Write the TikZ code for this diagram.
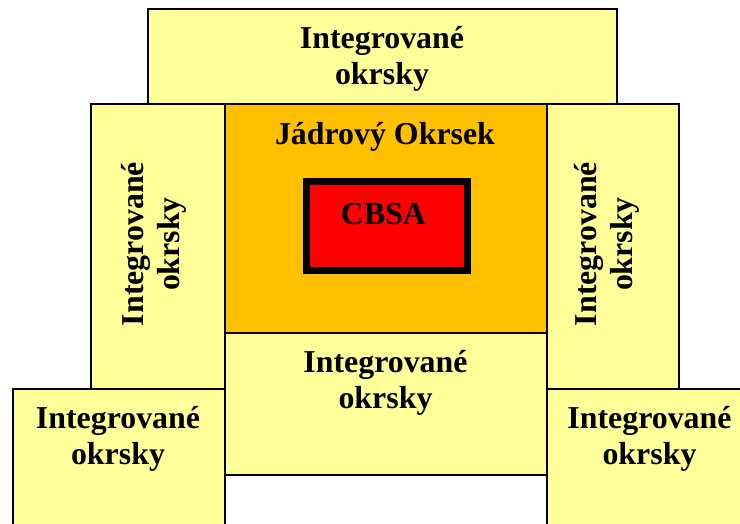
\documentclass[tikz,border=0pt]{standalone}
\usepackage{fontspec}
\setmainfont{Liberation Serif}
\definecolor{zoneyellow}{RGB}{255,255,153}
\definecolor{coreorange}{RGB}{255,192,0}
\definecolor{cbsared}{RGB}{255,0,0}
\definecolor{shadowolive}{RGB}{153,153,51}
\begin{document}
\begin{tikzpicture}[x=1bp,y=-1bp,
  zone/.style={rectangle, draw=black, line width=2bp, fill=zoneyellow,
    inner sep=0pt, anchor=north west},
  corezone/.style={zone, fill=coreorange},
  lbl/.style={font=\fontsize{32}{36}\selectfont\bfseries, align=center,
    inner sep=0pt, anchor=center}]
\useasboundingbox (0,0) rectangle (740,524);
\clip (0,0) rectangle (740,524);

% outer ring of integrated districts
\node[zone, minimum width=469bp, minimum height=95bp] (top) at (147,8) {};
\node[zone, minimum width=134bp, minimum height=285bp] (leftcol) at (90,103) {};
\node[zone, minimum width=132bp, minimum height=285bp] (rightcol) at (546,103) {};
\node[corezone, minimum width=322bp, minimum height=229bp] (core) at (224,103) {};
\node[zone, minimum width=322bp, minimum height=142bp] (bottom) at (224,332) {};
\node[zone, minimum width=212bp, minimum height=160bp] (botleft) at (12,388) {};
\node[zone, minimum width=210bp, minimum height=160bp] (botright) at (546,388) {};

% CBSA block with its drop shadow
\fill[shadowolive] (303,180) rectangle (470,274);
\node[rectangle, draw=black, line width=7bp, fill=cbsared, inner sep=0pt,
  anchor=north west, minimum width=161bp, minimum height=88bp]
  (cbsa) at (302.5,178.5) {};

% labels
\node[lbl] (toplbl) at (382,59) {Integrované\\okrsky};
\node[lbl, rotate=90] (leftlbl) at (154,244) {Integrované\\okrsky};
\node[lbl, rotate=90] (rightlbl) at (607,244) {Integrované\\okrsky};
\node[lbl] (corelbl) at (385,137) {Jádrový Okrsek};
\node[lbl] (cbsalbl) at (383.5,214) {CBSA};
\node[lbl] (bottomlbl) at (385.5,383) {Integrované\\okrsky};
\node[lbl] (botleftlbl) at (118,439) {Integrované\\okrsky};
\node[lbl] (botrightlbl) at (649.5,439) {Integrované\\okrsky};
\end{tikzpicture}
\end{document}
